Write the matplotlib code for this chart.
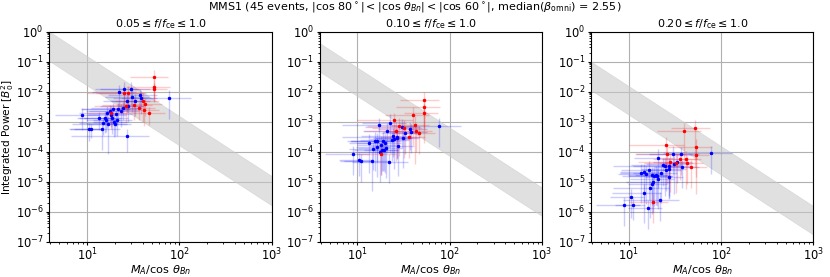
import numpy as np
import matplotlib
matplotlib.use('Agg')
import matplotlib.pyplot as plt

# per-event M_A/cos(theta_Bn) and colour (same events in all panels)
xval = [8.9, 10.5, 11.0, 14.5, 14.8, 15.5, 16.2, 17.0, 17.8, 18.5, 19.0, 19.5,
        20.0, 21.0, 21.9, 22.4, 24.5, 25.1, 27.0, 27.5, 27.0, 30.2, 30.9, 37.0,
        38.0, 77.6, 13.5, 16.5, 18.0, 23.5, 20.5, 33.0,
        52.5, 53.0, 53.0, 40.0, 25.1, 32.4, 36.3, 41.7, 46.8, 18.2, 26.3, 42.7, 28.0]
cols = ['b'] * 32 + ['r'] * 13
xerr_frac = [0.5, 0.4, 0.35, 0.55, 0.45, 0.5, 0.4, 0.6, 0.45, 0.5, 0.55, 0.4,
             0.5, 0.45, 0.6, 0.5, 0.55, 0.45, 0.75, 0.5, 0.45, 0.6, 0.5, 0.55,
             0.5, 0.7, 0.4, 0.5, 0.45, 0.55, 0.5, 0.45,
             0.45, 0.5, 0.4, 0.5, 0.6, 0.55, 0.5, 0.45, 0.5, 0.45, 0.55, 0.5, 0.55]

# integrated power, one list per frequency band
y1 = [1.7e-3, 5.8e-4, 5.5e-4, 5.5e-4, 9.1e-4, 1.35e-3, 1.1e-3, 8.1e-4, 2.2e-3, 1.3e-3,
      2.6e-3, 1.0e-3, 8.5e-4, 1.1e-3, 2.6e-3, 9.5e-3, 2.9e-3, 1.2e-2, 3.3e-4, 3.3e-3,
      4.8e-3, 1.2e-2, 6.8e-3, 7.4e-3, 6.0e-3, 6.2e-3, 1.3e-3, 2.0e-3, 1.6e-3, 2.2e-3,
      1.8e-3, 5.0e-3,
      3.0e-2, 1.45e-2, 1.2e-2, 4.8e-3, 8.7e-3, 3.7e-3, 2.75e-3, 2.4e-3, 1.95e-3, 1.95e-3,
      3.3e-3, 3.9e-3, 9.0e-3]
y2 = [8.5e-5, 5.2e-5, 4.7e-5, 4.9e-5, 1.2e-4, 2.3e-4, 1.4e-4, 7.5e-4, 1.0e-4, 1.15e-4,
      2.3e-4, 1.15e-4, 2.0e-4, 4.9e-4, 4.6e-5, 9.3e-4, 3.3e-4, 2.7e-4, 3.1e-4, 1.5e-4,
      2.8e-4, 6.8e-4, 2.75e-4, 5.5e-4, 4.5e-4, 7.2e-4, 2.0e-4, 2.3e-4, 1.7e-4, 2.4e-4,
      1.3e-4, 4.0e-4,
      5.2e-3, 3.0e-3, 2.0e-3, 1.6e-3, 1.1e-3, 6.0e-4, 3.1e-4, 7.8e-4, 4.0e-4, 8.5e-5,
      5.0e-4, 4.9e-4, 7.0e-4]
y3 = [1.7e-6, 3.1e-6, 1.7e-6, 4.2e-6, 2.1e-5, 1.8e-5, 1.3e-6, 6.0e-6, 8.1e-6, 1.0e-5,
      1.55e-5, 1.7e-5, 1.5e-5, 6.3e-5, 2.5e-6, 2.0e-5, 3.2e-5, 2.5e-5, 3.3e-5, 2.7e-5,
      1.4e-5, 8.5e-5, 3.8e-5, 8.1e-5, 3.0e-5, 8.7e-5, 2.0e-5, 2.5e-5, 1.6e-5, 3.5e-5,
      1.2e-5, 4.5e-5,
      5.9e-4, 1.4e-4, 7.8e-5, 4.7e-4, 1.7e-4, 4.0e-5, 5.5e-5, 5.5e-5, 3.0e-5, 2.1e-6,
      8.1e-5, 4.0e-5, 4.5e-5]
yerr1 = [0.7, 0.6, 0.5, 0.8, 0.6, 0.7, 0.6, 0.9, 0.6, 0.7, 0.6, 0.7, 0.6, 0.7, 0.6, 0.7,
         0.6, 0.8, 0.7, 0.7, 0.6, 0.7, 0.7, 0.6, 0.7, 0.8, 0.6, 0.7, 0.6, 0.7, 0.6, 0.7,
         0.8, 0.7, 0.6, 0.8, 0.7, 0.7, 0.6, 0.7, 0.6, 0.7, 0.7, 0.6, 0.7]
yerr2 = [0.8, 0.7, 0.8, 0.9, 0.8, 0.9, 0.9, 0.8, 0.9, 0.8, 0.9, 0.8, 0.9, 0.8, 0.8, 0.9,
         0.8, 0.9, 0.8, 0.9, 0.8, 0.8, 0.9, 0.8, 0.8, 0.8, 0.9, 0.8, 0.9, 0.8, 0.9, 0.8,
         0.9, 0.8, 0.9, 0.9, 0.8, 0.9, 0.8, 0.95, 0.8, 0.8, 0.9, 0.8, 0.9]
yerr3 = [0.8, 0.8, 0.7, 0.9, 0.9, 0.9, 0.8, 0.9, 0.9, 0.9, 0.9, 0.9, 0.9, 0.9, 0.8, 0.9,
         0.9, 0.8, 0.9, 0.9, 0.8, 0.8, 0.9, 0.8, 0.8, 0.8, 0.9, 0.9, 0.9, 0.8, 0.9, 0.8,
         0.95, 0.9, 0.95, 0.9, 0.8, 0.9, 0.8, 0.9, 0.8, 0.8, 0.9, 0.8, 0.9]

titles = [r'$0.05 \leq f/f_{\rm ce} \leq 1.0$',
          r'$0.10 \leq f/f_{\rm ce} \leq 1.0$',
          r'$0.20 \leq f/f_{\rm ce} \leq 1.0$']
# band: power = C * (M_A/cos)^-2, upper and lower constants per panel
band_hi = [15.2, 6.3, 1.52]
band_lo = [1.6, 0.71, 0.17]

fig = plt.figure(figsize=(8.3, 2.77), dpi=100)
lefts = [0.0594, 0.385, 0.712]
xb = np.logspace(0, 3.2, 100)
x = np.array(xval)
xe = x * np.array(xerr_frac)

for k, (yy, ye_f) in enumerate([(y1, yerr1), (y2, yerr2), (y3, yerr3)]):
    ax = fig.add_axes([lefts[k], 0.128, 0.268, 0.758])
    ax.set_xscale('log')
    ax.set_yscale('log')
    ax.fill_between(xb, band_lo[k] * xb ** -2, band_hi[k] * xb ** -2,
                    color='#c8c8c8', alpha=0.55, lw=0.5, zorder=1)
    y = np.array(yy)
    ye = y * np.array(ye_f)
    for i in range(len(x)):
        ax.errorbar(x[i], y[i], xerr=xe[i], yerr=ye[i], fmt='none',
                    ecolor=cols[i], alpha=0.2, lw=1, zorder=2)
        ax.plot(x[i], y[i], '.', color=cols[i], ms=3, zorder=3)
    ax.set_xlim(3.9, 1000)
    ax.set_ylim(1e-7, 1)
    ax.set_yticks([10.0 ** p for p in range(-7, 1)])
    ax.grid(True, which='major', color='#b0b0b0', lw=0.8)
    ax.set_axisbelow(True)
    ax.set_title(titles[k], fontsize=8, pad=3)
    ax.set_xlabel(r'$M_A/\cos\,\theta_{Bn}$', fontsize=8.2, labelpad=0)
    ax.tick_params(labelsize=8.3, length=2.5, pad=1.5)
    ax.tick_params(which='minor', length=1.5)
    if k == 0:
        ax.set_ylabel(r'Integrated Power [$B_0^2$]', fontsize=7.6)
        ax.yaxis.set_label_coords(-0.15, 0.5)

fig.suptitle(r'MMS1 (45 events, $|\cos\,80^\circ| < |\cos\,\theta_{Bn}| < |\cos\,60^\circ|$, '
             r'median($\beta_{\rm omni}$) = 2.55)', fontsize=8, y=0.995)
fig.savefig('out.png', dpi=100)
